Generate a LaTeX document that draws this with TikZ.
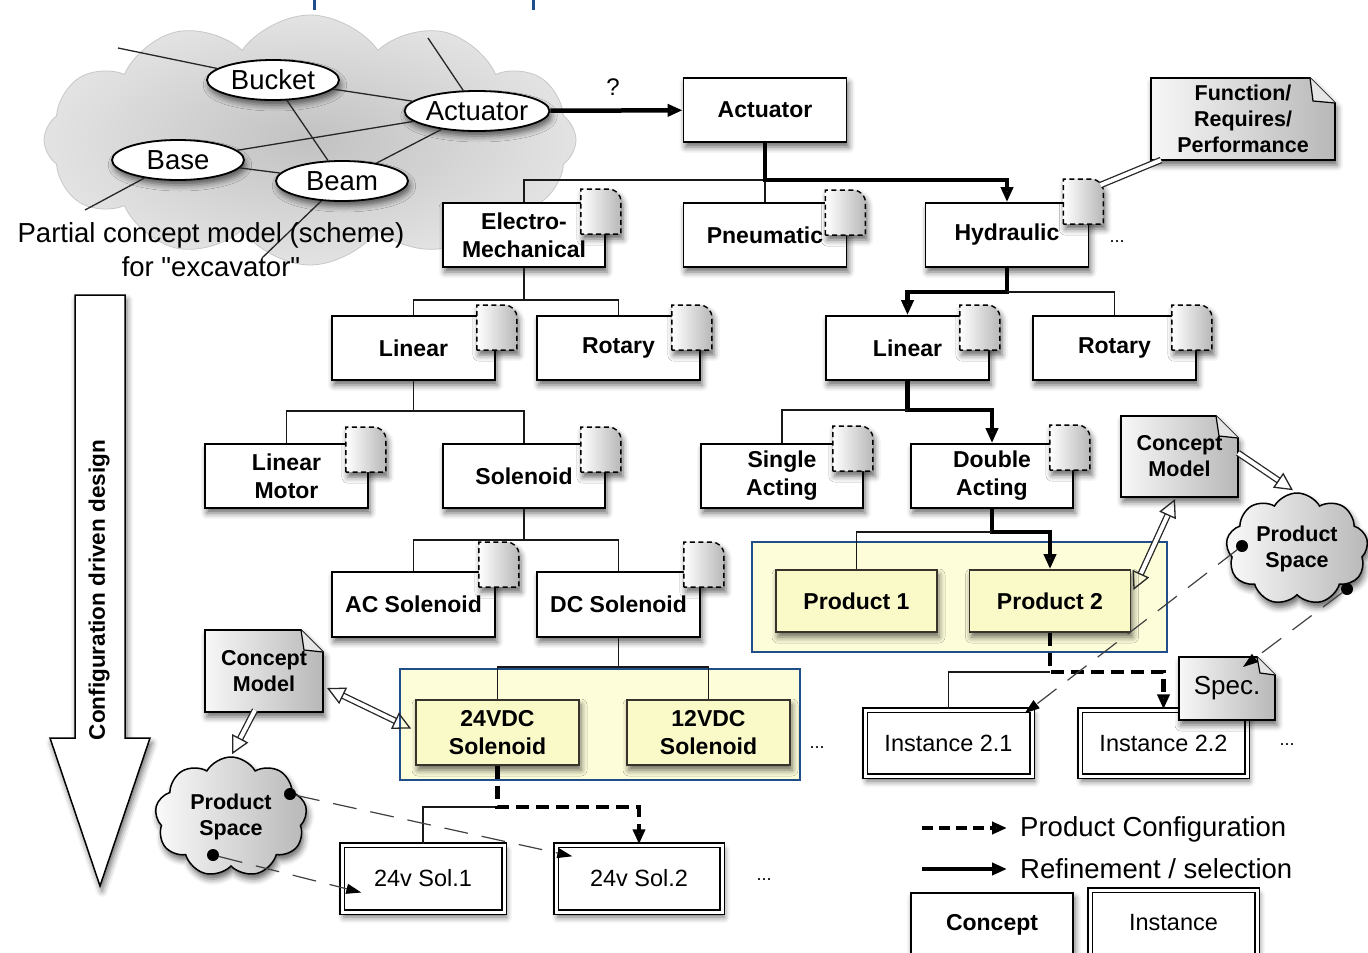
\documentclass[tikz,border=0pt]{standalone}
\usepackage{fontspec}
\setmainfont{Liberation Sans}
\usetikzlibrary{arrows.meta,shapes.geometric,shapes.symbols,calc,shadows.blur}

\definecolor{hlfill}{HTML}{FDFDDA}
\definecolor{prodfill}{HTML}{FAFAC9}
\definecolor{hlblue}{HTML}{1F4E8A}

\newcommand\fsz[2]{\fontsize{#1}{#2}\selectfont}
% straight double quote glyph, set directly so that no ligature mapping curls it
\newcommand\sdq{\XeTeXglyph\XeTeXcharglyph34\relax}

% dashed attribute tab at the upper right corner of a concept box
\newcommand\tabat[3]{%
  \begin{scope}[shift={($(#1.north east)+(#2,#3)$)}]
    \path[tabsty] (0,45) -- (0,0) -- (27,0) .. controls (35,0) and (40,5) .. (40,13) -- (40,45) -- cycle;
  \end{scope}}

% document note with a folded corner: name, x0, y0, x1, y1, fold size, text
\newcommand\docnote[7]{%
  \coordinate (#1A) at (#2,#3);
  \coordinate (#1B) at (#4,#5);
  \path[notebg] (#1A) -- ($(#1A -| #1B)+(-#6,0)$) -- ($(#1A -| #1B)+(0,#6)$) -- (#1B) -- (#1A |- #1B) -- cycle;
  \draw[fold] ($(#1A -| #1B)+(-#6,0)$) -- ($(#1A -| #1B)+(-#6+3,#6-2)$) -- ($(#1A -| #1B)+(0,#6)$);
  \node[notetext] (#1) at ($(#1A)!0.5!(#1B)$) {#7};}

\begin{document}
\begin{tikzpicture}[x=1pt,y=-1pt,
  shad/.style={blur shadow={shadow xshift=2pt, shadow yshift=-5pt, shadow blur radius=6pt, shadow opacity=60}},
  concept/.style={draw, line width=1.8pt, fill=white, shad, inner sep=0pt,
    minimum width=163pt, minimum height=64pt, align=center, font=\bfseries\fsz{23}{28}},
  product/.style={concept, fill=prodfill, draw=black!80!olive, minimum width=161pt, minimum height=62pt},
  instance/.style={draw, line width=1.4pt, double=white, double distance=3pt, fill=white, shad,
    inner sep=0pt, minimum width=166pt, minimum height=66pt, font=\fsz{23.5}{28}},
  ell/.style={ellipse, draw, line width=1.8pt, fill=white, shad, inner sep=0pt,
    minimum width=132pt, minimum height=40pt, font=\fsz{27.5}{30}},
  cline/.style={line width=1.3pt, black!85},
  tabsty/.style={draw, dash pattern=on 5pt off 3.5pt, line width=1.4pt, left color=white, right color=black!28, shad},
  notebg/.style={draw, line width=1.6pt, left color=black!3, right color=black!28, shad},
  fold/.style={line width=1.2pt, fill=black!10},
  notetext/.style={inner sep=0pt, align=center, font=\bfseries\fsz{21.5}{26}},
  pscloud/.style={cloud, cloud puffs=9, cloud puff arc=120, aspect=1.25, draw, line width=1.5pt,
    left color=black!2, right color=black!28, shad, inner sep=0pt, align=center, font=\bfseries\fsz{21.5}{26}},
  dot/.style={circle, fill=black, inner sep=0pt, minimum size=12pt},
  hl/.style={draw=hlblue, line width=1.5pt, fill=hlfill, inner sep=0pt},
  tree/.style={line width=1.5pt, black!90},
  refine/.style={line width=4.5pt, -{Triangle[length=15pt,width=12pt]}},
  config/.style={line width=4.5pt, dash pattern=on 13pt off 7pt, -{Triangle[length=15pt,width=12pt]}},
  pdash/.style={line width=1.2pt, black!75, dash pattern=on 24pt off 14pt, -{Triangle[length=15pt,width=10pt,black]}},
  hollow/.style={draw=black!85, line width=1.3pt, double=white, double distance=4pt},
  htip/.style={-{Triangle[open,length=18pt,width=18pt]}},
  hboth/.style={{Triangle[open,length=18pt,width=18pt]}-{Triangle[open,length=18pt,width=18pt]}},
  more/.style={font=\fsz{18}{20}, inner sep=0pt},
  lgtxt/.style={font=\fsz{27.5}{30}, inner sep=0pt, anchor=west},
]
\useasboundingbox (0,0) rectangle (1368,953);

% frame fragments along the top edge
\draw[hlblue, line width=3pt] (314,0) -- (314,10);
\draw[hlblue, line width=3pt] (533,0) -- (533,10);

% ---------- partial concept model (scheme) ----------
\node[cloud, cloud puffs=12, cloud puff arc=110, aspect=2.1, minimum width=532pt, minimum height=250pt,
  inner color=black!24, outer color=black!11, draw=black!22, line width=0.8pt] (scheme) at (310,140) {};
\node[ell] (bucket) at (273,80) {Bucket};
\node[ell] (eact) at (477,111) {Actuator};
\node[ell] (base) at (178,160) {Base};
\node[ell] (beam) at (342,181) {Beam};
\coordinate (c1) at (118,48);
\coordinate (c2) at (428,38);
\coordinate (c3) at (85,210);
\coordinate (c4) at (262,258);
\draw[cline] (c1) -- (bucket);
\draw[cline] (bucket) -- (eact);
\draw[cline] (bucket) -- (beam);
\draw[cline] (c2) -- (eact);
\draw[cline] (base) -- (eact);
\draw[cline] (base) -- (beam);
\draw[cline] (beam) -- (eact);
\draw[cline] (base) -- (c3);
\draw[cline] (beam) -- (c4);
\node[font=\fsz{27.5}{34}, align=center, inner sep=0pt] (schemelbl) at (211,250)
  {Partial concept model (scheme)\\for \sdq excavator\sdq};

% ---------- groups of selected products ----------
\node[hl, minimum width=415pt, minimum height=110pt] (grpP) at (959.5,597) {};
\node[hl, minimum width=400pt, minimum height=111pt] (grpS) at (600,724.5) {};

% ---------- concept hierarchy ----------
\node[concept] (act) at (765,110) {Actuator};
\node[concept, minimum width=162pt] (elec) at (524,235) {Electro-\\Mechanical};
\tabat{elec}{-25}{-13}
\node[concept] (pneu) at (765,235) {Pneumatic};
\tabat{pneu}{-22}{-12}
\node[concept] (hyd) at (1007,235) {Hydraulic};
\tabat{hyd}{-26}{-23}

\node[concept] (lin1) at (413.5,348) {Linear};
\tabat{lin1}{-19}{-10}
\node[concept] (rot1) at (618.5,348) {Rotary};
\tabat{rot1}{-29}{-10}
\node[concept] (lin2) at (907.5,348) {Linear};
\tabat{lin2}{-30}{-10}
\node[concept] (rot2) at (1114.5,348) {Rotary};
\tabat{rot2}{-25}{-10}

\node[concept] (lmot) at (286.5,476) {Linear\\Motor};
\tabat{lmot}{-23}{-16}
\node[concept, minimum width=162pt] (sol) at (524,476) {Solenoid};
\tabat{sol}{-25}{-16}
\node[concept, minimum width=162pt] (single) at (782,476) {Single\\Acting};
\tabat{single}{-31}{-17}
\node[concept, minimum width=162pt] (double) at (992,476) {Double\\Acting};
\tabat{double}{-24}{-18}

\node[concept, minimum height=65pt] (acs) at (413.5,604.5) {AC Solenoid};
\tabat{acs}{-17}{-29}
\node[concept, minimum height=65pt] (dcs) at (618.5,604.5) {DC Solenoid};
\tabat{dcs}{-17}{-29}

\node[product] (p1) at (856.5,601) {Product 1};
\node[product] (p2) at (1050,601) {Product 2};
\node[product, minimum width=163pt, minimum height=65pt] (v24) at (497.5,732.5) {24VDC\\Solenoid};
\node[product, minimum width=163pt, minimum height=65pt] (v12) at (708.5,732.5) {12VDC\\Solenoid};

\node[instance, minimum width=167pt] (i21) at (948.5,743) {Instance 2.1};
\node[instance, minimum width=167pt] (i22) at (1163.5,743) {Instance 2.2};
\node[instance, minimum width=162pt, minimum height=67pt] (s1) at (423,878.5) {24v Sol.1};
\node[instance, minimum width=166pt, minimum height=67pt] (s2) at (639,878.5) {24v Sol.2};

\node[more] (more1) at (1117,242) {...};
\node[more] (more2) at (817,748) {...};
\node[more] (more3) at (1287,745) {...};
\node[more] (more4) at (764,880) {...};

% ---------- notes and product spaces ----------
\docnote{fnote}{1151}{78}{1335}{160}{25}{Function/\\Requires/\\Performance}
\docnote{cmr}{1121}{416}{1238}{497}{22}{Concept\\Model}
\docnote{cml}{205}{630}{323}{712}{22}{Concept\\Model}
\docnote{spec}{1179}{657}{1275}{720}{18}{\mdseries\fsz{26}{28}Spec.}

\node[pscloud, minimum width=142pt, minimum height=112pt] (ps2) at (1297,549) {Product\\Space};
\node[pscloud, minimum width=152pt, minimum height=120pt] (ps1) at (231,817) {Product\\Space};
\node[dot] (ps2a) at (1242,546) {};
\node[dot] (ps2b) at (1347,589) {};
\node[dot] (ps1a) at (290,794) {};
\node[dot] (ps1b) at (213,855) {};

% ---------- refinement tree ----------
\node[font=\fsz{24}{26}, inner sep=0pt] (qmark) at (613,87) {?};
\draw[refine] (eact) -- (act);

\coordinate (j1) at (765,180);
\draw[tree] (elec.north) |- (j1);
\draw[tree] (j1) -- (pneu.north);
\draw[refine] (act.south) |- (hyd.north |- j1) -- (hyd.north);

\coordinate (j2) at (524,300);
\draw[tree] (elec.south) -- (j2);
\draw[tree] (lin1.north) |- (j2) -| (rot1.north);

\coordinate (j3) at (1007,292);
\draw[refine] (hyd.south) |- (lin2.north |- j3) -- (lin2.north);
\draw[tree] (j3) -| (rot2.north);

\coordinate (j4) at (413.5,411);
\draw[tree] (lin1.south) -- (j4);
\draw[tree] (lmot.north) |- (j4) -| (sol.north);

\coordinate (j5) at (907.5,410);
\draw[refine] (lin2.south) |- (double.north |- j5) -- (double.north);
\draw[tree] (j5) -| (single.north);

\coordinate (j6) at (524,540);
\draw[tree] (sol.south) -- (j6);
\draw[tree] (acs.north) |- (j6) -| (dcs.north);

\coordinate (j7) at (992,532);
\draw[refine] (double.south) |- (p2.north |- j7) -- (p2.north);
\draw[tree] (j7) -| (p1.north);

\coordinate (j8) at (618.5,667);
\draw[tree] (dcs.south) -- (j8);
\draw[tree] (v24.north) |- (j8) -| (v12.north);

% ---------- configuration ----------
\coordinate (j9) at (497.5,807);
\draw[tree] (j9) -| (s1.north);
\draw[config] (v24.south) |- (s2.north |- j9) -- (s2.north);

\coordinate (j10) at (1050,672);
\draw[tree] (j10) -| (i21.north);
\draw[config] (p2.south) |- (i22.north |- j10) -- (i22.north);

% ---------- links between notes, spaces and instances ----------
\draw[hollow] ($(hyd.north east)+(11,-17)$) -- ($(fnoteA |- fnoteB)+(10,0)$);
\draw[hollow, htip] ($(cmrA -| cmrB)+(0,37)$) -- ($(ps2.north)+(-4,-2)$);
\draw[hollow, hboth] ($(p2.east)+(2,-11)$) -- ($(cmrA |- cmrB)+(54,2)$);
\draw[hollow, hboth] ($(cmlA -| cmlB)+(4,58)$) -- ($(v24.west)+(-4,-4)$);
\draw[hollow, htip] ($(cmlA |- cmlB)+(50,-2)$) -- ($(ps1.north)+(1,-2)$);

\draw[pdash] (ps2a) -- ($(i21.north east)+(-8,4)$);
\draw[pdash] (ps2b) -- ($(specA -| specB)+(-32,10)$);
\draw[pdash] (ps1a) -- ($(s2.north west)+(17,12)$);
\draw[pdash] (ps1b) -- ($(s1.west)+(20,14)$);

% ---------- design direction ----------
\path[draw, line width=1.5pt, fill=white, shad] (75,295) -- (125,295) -- (125,738) -- (150,738)
  -- (100,886) -- (50,738) -- (75,738) -- cycle;
\node[rotate=90, font=\bfseries\fsz{22.5}{26}, inner sep=0pt] (cdd) at (99,590) {Configuration driven design};

% ---------- legend ----------
\coordinate (lgA1) at (922,828);
\coordinate (lgA2) at (1007,828);
\draw[config, line width=4pt, dash pattern=on 11pt off 6pt] (lgA1) -- (lgA2);
\node[lgtxt] (lgT1) at (1020,829) {Product Configuration};
\coordinate (lgB1) at (922,869);
\coordinate (lgB2) at (1007,869);
\draw[refine, line width=4pt] (lgB1) -- (lgB2);
\node[lgtxt] (lgT2) at (1020,869) {Refinement / selection};
\node[concept, minimum width=162pt] (lgc) at (992,925) {Concept};
\node[instance, minimum width=167pt] (lgi) at (1173.5,923) {Instance};
\end{tikzpicture}
\end{document}
